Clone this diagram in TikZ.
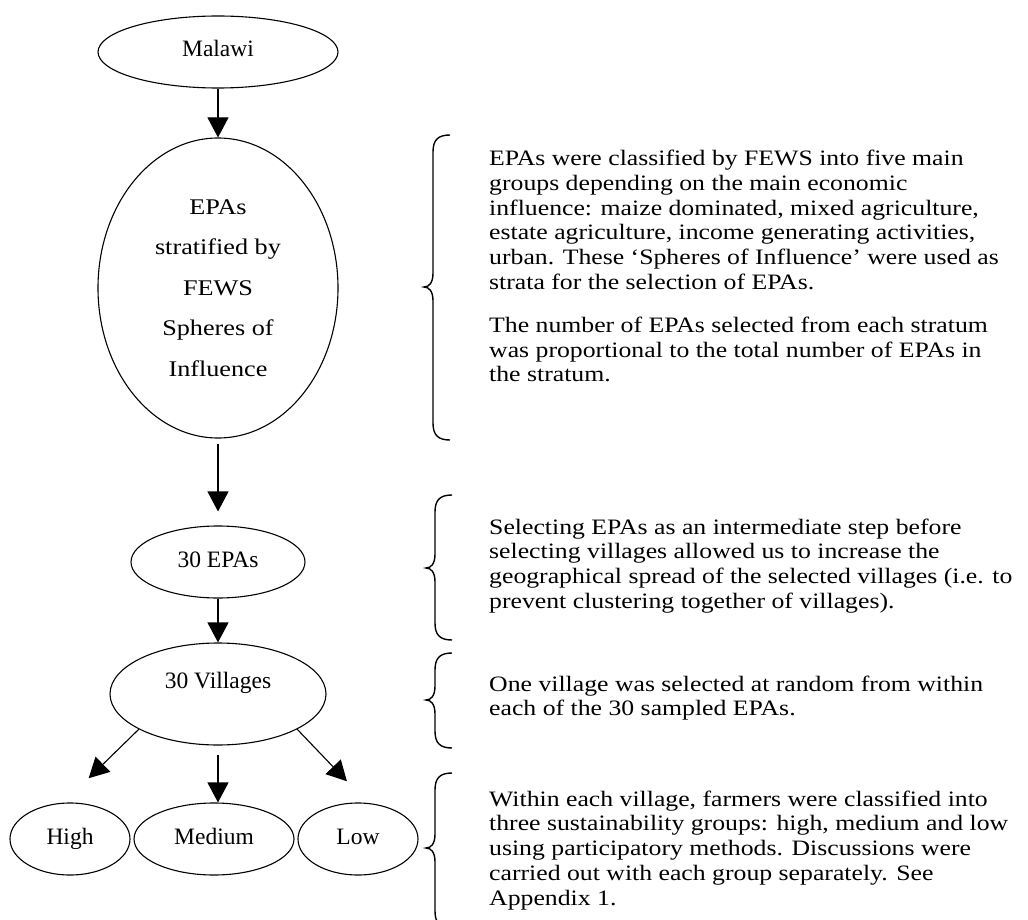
\documentclass[tikz,border=0pt]{standalone}
\usepackage{fontspec}
\setmainfont{Liberation Serif}
\newfontfamily\geo[FakeStretch=1.17]{Liberation Serif}
\usetikzlibrary{shapes.geometric,arrows.meta}
\tikzset{
  oval/.style={ellipse, draw, line width=1.1pt, inner sep=0pt, text height=10pt, text depth=0pt,
    font=\fontsize{23.5}{28}\selectfont},
  bigoval/.style={ellipse, draw, line width=1.1pt, inner sep=0pt, align=center,
    font=\geo\fontsize{22.4}{40.5}\selectfont},
  arr/.style={line width=1.1pt, -{Triangle[length=20pt,width=21pt]}},
  note/.style={anchor=base west, inner sep=0pt, align=left,
    font=\geo\fontsize{22}{24.8}\selectfont},
  bracestyle/.style={line width=1.4pt}
}
\newcommand\mybrace[4]{%
  \draw[bracestyle] (#1+17,#2) .. controls (#1+5,#2) and (#1,#2+5) .. (#1,#2+17)
    -- (#1,#4-14) .. controls (#1,#4-4) and (#1-4,#4) .. (#1-9,#4)
    .. controls (#1-4,#4) and (#1,#4+4) .. (#1,#4+14)
    -- (#1,#3-17) .. controls (#1,#3-5) and (#1+5,#3) .. (#1+17,#3);}
\begin{document}
\begin{tikzpicture}[x=1pt,y=-1pt]
\fill[white] (0,0) rectangle (1028,920);
\useasboundingbox (0,0) rectangle (1028,920);

\node[oval, minimum width=240pt, minimum height=72pt] (mal) at (218,52) {Malawi};
\node[bigoval, minimum width=240pt, minimum height=300pt] (big) at (218,288)
  {EPAs\\stratified by\\FEWS\\Spheres of\\Influence};
\node[oval, minimum width=174pt, minimum height=72pt] (epa) at (218,562) {30 EPAs};
\node[oval, minimum width=216pt, minimum height=102pt, text depth=21pt] (vil) at (218,694) {30 Villages};
\node[oval, minimum width=120pt, minimum height=72pt] (hi) at (70,839) {High};
\node[oval, minimum width=160pt, minimum height=72pt] (med) at (214,839) {Medium};
\node[oval, minimum width=120pt, minimum height=72pt] (lo) at (358,839) {Low};

\draw[arr] (mal.south) -- (big.north);
\draw[arr, shorten <=5pt, shorten >=14pt] (big.south) -- (epa.north);
\draw[arr] (epa.south) -- (vil.north);
\draw[arr, shorten >=35pt] (vil.204) -- (hi.100);
\draw[arr, shorten <=9pt] (vil.south) -- (vil.south |- med.north);
\draw[arr, shorten >=30pt] (vil.336) -- (lo.75);

\mybrace{433}{135}{440}{287}
\mybrace{435}{495}{640}{568}
\mybrace{435}{653}{748}{700}
\mybrace{435}{773}{928}{848}

% base anchor = baseline of the last line
\node[note] (n1) at (489,381.9) {EPAs were classified by FEWS into five main\\
groups depending on the main economic\\
influence: maize dominated, mixed agriculture,\\
estate agriculture, income generating activities,\\
urban. These ‘Spheres of Influence’ were used as\\
strata for the selection of EPAs.\\[18pt]
The number of EPAs selected from each stratum\\
was proportional to the total number of EPAs in\\
the stratum.};
\node[note] (n2) at (489,608.4) {Selecting EPAs as an intermediate step before\\
selecting villages allowed us to increase the\\
geographical spread of the selected villages (i.e. to\\
prevent clustering together of villages).};
\node[note] (n3) at (489,715.8) {One village was selected at random from within\\
each of the 30 sampled EPAs.};
\node[note] (n4) at (489,905.2) {Within each village, farmers were classified into\\
three sustainability groups: high, medium and low\\
using participatory methods. Discussions were\\
carried out with each group separately. See\\
Appendix 1.};
\end{tikzpicture}
\end{document}
